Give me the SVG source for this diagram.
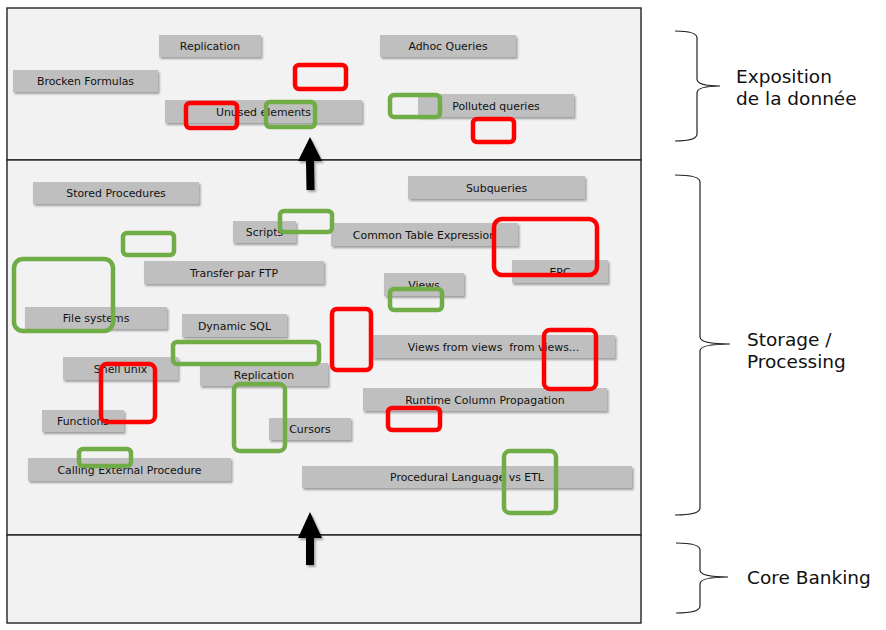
<svg xmlns="http://www.w3.org/2000/svg" width="886" height="630" viewBox="0 0 886 630">
<defs>
<filter id="sh" x="-10%" y="-30%" width="120%" height="170%">
<feDropShadow dx="1.5" dy="2" stdDeviation="1.3" flood-color="#000" flood-opacity="0.35"/>
</filter>
<style>
.panel{fill:#F2F2F2;stroke:#222;stroke-width:1.4}
.node rect{fill:#BFBFBF;filter:url(#sh)}
.node text{font-family:"DejaVu Sans",Verdana,sans-serif;font-size:10.9px;fill:#111;text-anchor:middle}
.red{fill:none;stroke:#FF0000;stroke-width:4.5;}
.green{fill:none;stroke:#70AD47;stroke-width:4.5;}
.brace{fill:none;stroke:#222;stroke-width:1.2}
.lbl{font-family:"DejaVu Sans",Verdana,sans-serif;font-size:18.5px;fill:#111}
.arrow{fill:#000;filter:url(#sh)}
</style>
</defs>
<rect width="886" height="630" fill="#fff"/>
<g id="layers">
<rect class="panel" x="7" y="8" width="634" height="152"/>
<rect class="panel" x="7" y="160" width="634" height="375"/>
<rect class="panel" x="7" y="535" width="634" height="88"/>
</g>
<g id="n-replication1" class="node"><rect x="159" y="35" width="102" height="22"/><text x="210" y="50">Replication</text></g>
<g id="n-adhoc" class="node"><rect x="380" y="35" width="136" height="22"/><text x="448" y="50">Adhoc Queries</text></g>
<g id="n-brocken" class="node"><rect x="13" y="70" width="145" height="22"/><text x="85.5" y="85">Brocken Formulas</text></g>
<g id="n-unused" class="node"><rect x="165" y="100" width="197" height="23"/><text x="263.5" y="115.5">Unused elements</text></g>
<g id="n-polluted" class="node"><rect x="418" y="94" width="156" height="23"/><text x="496" y="109.5">Polluted queries</text></g>
<g id="n-stored" class="node"><rect x="33" y="182" width="166" height="22"/><text x="116" y="197">Stored Procedures</text></g>
<g id="n-subqueries" class="node"><rect x="408" y="176" width="177" height="23"/><text x="496.5" y="191.5">Subqueries</text></g>
<g id="n-scripts" class="node"><rect x="233" y="221" width="63" height="22"/><text x="264.5" y="236">Scripts</text></g>
<g id="n-cte" class="node"><rect x="331" y="223" width="187" height="23"/><text x="424.5" y="238.5">Common Table Expression</text></g>
<g id="n-ftp" class="node"><rect x="144" y="261" width="180" height="23"/><text x="234" y="276.5">Transfer par FTP</text></g>
<g id="n-epc" class="node"><rect x="512" y="260" width="96" height="23"/><text x="560" y="275.5">EPC</text></g>
<g id="n-views" class="node"><rect x="384" y="273" width="80" height="23"/><text x="424" y="288.5">Views</text></g>
<g id="n-filesystems" class="node"><rect x="25" y="307" width="142" height="22"/><text x="96" y="322">File systems</text></g>
<g id="n-dynsql" class="node"><rect x="182" y="314" width="105" height="23"/><text x="234.5" y="329.5">Dynamic SQL</text></g>
<g id="n-viewsfromviews" class="node"><rect x="372" y="335" width="243" height="23"/><text x="493.5" y="350.5" xml:space="preserve">Views from views  from views...</text></g>
<g id="n-shell" class="node"><rect x="63" y="357" width="115" height="23"/><text x="120.5" y="372.5">Shell unix</text></g>
<g id="n-replication2" class="node"><rect x="200" y="363" width="128" height="23"/><text x="264" y="378.5">Replication</text></g>
<g id="n-runtime" class="node"><rect x="363" y="388" width="244" height="23"/><text x="485" y="403.5">Runtime Column Propagation</text></g>
<g id="n-functions" class="node"><rect x="42" y="410" width="82" height="22"/><text x="83" y="425">Functions</text></g>
<g id="n-cursors" class="node"><rect x="269" y="418" width="82" height="22"/><text x="310" y="433">Cursors</text></g>
<g id="n-calling" class="node"><rect x="28" y="458" width="203" height="23"/><text x="129.5" y="473.5">Calling External Procedure</text></g>
<g id="n-procedural" class="node"><rect x="302" y="466" width="330" height="22"/><text x="467" y="481">Procedural Language vs ETL</text></g>
<g id="highlights">
<rect class="red" x="186" y="103" width="51" height="25" rx="4"/>
<rect class="green" x="266" y="102" width="49" height="25" rx="4"/>
<rect class="red" x="295" y="65" width="51" height="24" rx="4"/>
<rect class="green" x="390" y="95" width="50" height="22" rx="4"/>
<rect class="red" x="473" y="119" width="41" height="23" rx="4"/>
<rect class="green" x="280" y="211" width="52" height="21" rx="4"/>
<rect class="green" x="123" y="233" width="51" height="22" rx="4"/>
<rect class="green" x="14" y="259" width="99" height="72" rx="9"/>
<rect class="red" x="494" y="219" width="103" height="56" rx="8"/>
<rect class="green" x="390" y="289" width="52" height="21" rx="4"/>
<rect class="red" x="332" y="309" width="39" height="61" rx="5"/>
<rect class="red" x="544" y="330" width="52" height="59" rx="6"/>
<rect class="green" x="173" y="342" width="146" height="22" rx="4"/>
<rect class="red" x="101" y="364" width="54" height="58" rx="6"/>
<rect class="green" x="234" y="384" width="51" height="67" rx="6"/>
<rect class="red" x="388" y="408" width="52" height="22" rx="4"/>
<rect class="green" x="79" y="449" width="52" height="17" rx="4"/>
<rect class="green" x="504" y="451" width="52" height="62" rx="6"/>
</g>
<g id="connectors">
<path class="arrow" d="M310,137 L322,161 L314,161 L314.5,190 L306.5,190 L306,161 L298,161 Z"/>
<path class="arrow" d="M310,512 L322,538 L314,538 L314,565 L306,565 L306,538 L298,538 Z"/>
</g>
<g id="braces">
<path class="brace" d="M675,31 Q697,31 697,38 L697,79 Q697,86 720,86 Q697,86 697,93 L697,134 Q697,141 675,141"/>
<path class="brace" d="M675,175 Q700,175 700,182 L700,337 Q700,344 730,344 Q700,344 700,351 L700,508 Q700,515 675,515"/>
<path class="brace" d="M676,543 Q700,543 700,550 L700,570 Q700,577 728,577 Q700,577 700,584 L700,606 Q700,613 676,613"/>
</g>
<g id="labels">
<text class="lbl" x="736" y="83">Exposition</text>
<text class="lbl" x="736" y="105">de la donnée</text>
<text class="lbl" x="747" y="346">Storage /</text>
<text class="lbl" x="747" y="368">Processing</text>
<text class="lbl" x="747" y="584">Core Banking</text>
</g>
</svg>
